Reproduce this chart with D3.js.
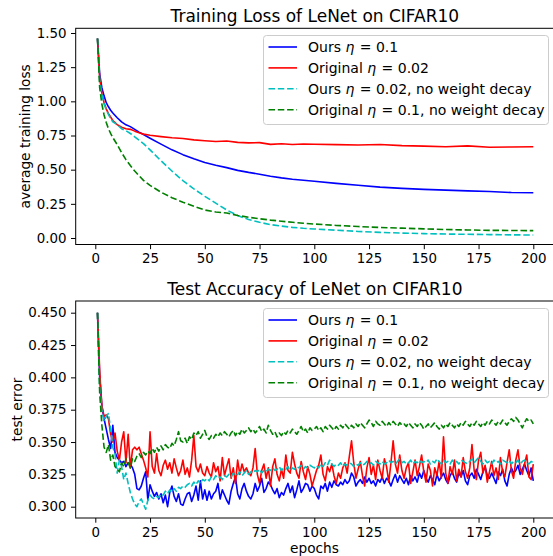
<!DOCTYPE html>
<html>
<head>
<meta charset="utf-8">
<script src="https://cdn.jsdelivr.net/npm/d3@7"></script>
<style>
  body { margin: 0; background: #fff; }
  svg { display: block; font-family: "DejaVu Sans", sans-serif; }
</style>
</head>
<body>
<div id="chart"></div>
<script>
// legend labels (η part is drawn in italic)
var seriesNames = [
    {pre: "Ours ", eta: "η", post: " = 0.1"},
    {pre: "Original ", eta: "η", post: " = 0.02"},
    {pre: "Ours ", eta: "η", post: " = 0.02, no weight decay"},
    {pre: "Original ", eta: "η", post: " = 0.1, no weight decay"}
];
var seriesColors = ["#0000ff", "#ff0000", "#00bfbf", "#008000"];
var seriesDashed = [false, false, true, true];

var xTicks = [0, 25, 50, 75, 100, 125, 150, 175, 200];
var lossTicks = [0, 0.25, 0.5, 0.75, 1.0, 1.25, 1.5];
var errTicks = [0.300, 0.325, 0.350, 0.375, 0.400, 0.425, 0.450];

// training loss, read at these epochs
var lossEpochs = [1,2,3,4,5,6,7,8,10,12,14,16,18,20,22,25,30,35,40,45,50,55,60,65,70,75,80,85,90,95,100,110,120,130,140,150,160,170,180,190,200];
var lossOurs = [1.46,1.20,1.10,1.04,0.99,0.96,0.935,0.915,0.88,0.85,0.828,0.815,0.795,0.775,0.757,0.73,0.687,0.645,0.61,0.58,0.553,0.533,0.515,0.495,0.48,0.467,0.452,0.44,0.43,0.422,0.415,0.400,0.386,0.372,0.363,0.356,0.350,0.345,0.340,0.333,0.331];
var lossOrig = [1.46,1.17,1.06,0.99,0.945,0.91,0.885,0.86,0.83,0.81,0.80,0.795,0.782,0.770,0.760,0.752,0.742,0.733,0.728,0.718,0.712,0.706,0.710,0.700,0.696,0.698,0.685,0.690,0.684,0.688,0.686,0.683,0.680,0.684,0.676,0.672,0.668,0.674,0.664,0.666,0.668];
var lossOursNoWd = [1.46,1.15,1.05,0.98,0.94,0.905,0.875,0.85,0.83,0.80,0.785,0.765,0.74,0.715,0.69,0.645,0.565,0.49,0.42,0.36,0.305,0.255,0.205,0.165,0.135,0.115,0.098,0.087,0.078,0.071,0.066,0.057,0.048,0.041,0.036,0.032,0.029,0.027,0.025,0.023,0.022];
var lossOrigNoWd = [1.46,1.10,0.98,0.90,0.845,0.80,0.765,0.735,0.683,0.625,0.573,0.53,0.49,0.455,0.422,0.385,0.335,0.295,0.262,0.232,0.205,0.19,0.183,0.165,0.152,0.141,0.131,0.123,0.115,0.108,0.102,0.092,0.084,0.077,0.072,0.067,0.062,0.059,0.056,0.055,0.054];

// test error, epochs 1..200
var errOurs = [
0.450,0.400,0.378,0.368,0.360,0.352,0.345,0.363,0.342,0.338,
0.336,0.334,0.335,0.331,0.334,0.333,0.330,0.325,0.314,0.313,
0.316,0.322,0.327,0.305,0.317,0.312,0.308,0.311,0.306,0.310,
0.303,0.309,0.300,0.311,0.316,0.308,0.304,0.310,0.302,0.301,
0.306,0.310,0.311,0.304,0.309,0.316,0.305,0.320,0.306,0.313,
0.305,0.312,0.306,0.310,0.312,0.318,0.306,0.313,0.309,0.305,
0.302,0.312,0.318,0.323,0.310,0.306,0.314,0.318,0.312,0.308,
0.306,0.310,0.318,0.312,0.316,0.322,0.311,0.314,0.319,0.317,
0.313,0.310,0.314,0.307,0.311,0.309,0.314,0.318,0.311,0.316,
0.307,0.313,0.320,0.311,0.314,0.318,0.317,0.312,0.316,0.314,
0.309,0.306,0.316,0.314,0.318,0.312,0.319,0.315,0.320,0.317,
0.316,0.319,0.317,0.321,0.318,0.320,0.326,0.323,0.316,0.319,
0.321,0.318,0.323,0.319,0.322,0.318,0.320,0.316,0.321,0.319,
0.323,0.318,0.322,0.320,0.316,0.321,0.325,0.319,0.324,0.321,
0.318,0.322,0.317,0.324,0.320,0.323,0.319,0.326,0.322,0.328,
0.322,0.319,0.324,0.321,0.317,0.325,0.320,0.323,0.326,0.321,
0.318,0.324,0.327,0.322,0.319,0.326,0.323,0.328,0.320,0.317,
0.324,0.326,0.322,0.329,0.325,0.321,0.327,0.331,0.324,0.322,
0.326,0.322,0.318,0.327,0.324,0.329,0.320,0.316,0.325,0.330,
0.326,0.328,0.332,0.325,0.329,0.333,0.328,0.324,0.330,0.320];
var errOrig = [
0.450,0.405,0.378,0.370,0.371,0.368,0.356,0.350,0.357,0.343,
0.336,0.350,0.358,0.334,0.356,0.330,0.344,0.346,0.344,0.346,
0.341,0.336,0.330,0.323,0.358,0.331,0.326,0.341,0.328,0.324,
0.332,0.336,0.329,0.334,0.326,0.337,0.330,0.324,0.328,0.336,
0.325,0.330,0.323,0.336,0.355,0.331,0.327,0.333,0.326,0.324,
0.331,0.326,0.323,0.334,0.327,0.331,0.320,0.338,0.324,0.331,
0.337,0.322,0.330,0.318,0.336,0.325,0.333,0.327,0.330,0.326,
0.324,0.330,0.345,0.325,0.318,0.328,0.333,0.322,0.330,0.316,
0.331,0.337,0.325,0.320,0.329,0.322,0.340,0.328,0.326,0.342,
0.333,0.326,0.322,0.335,0.327,0.321,0.331,0.325,0.316,0.322,
0.328,0.332,0.340,0.325,0.320,0.331,0.327,0.333,0.324,0.318,
0.326,0.322,0.330,0.334,0.326,0.339,0.351,0.334,0.322,0.329,
0.335,0.324,0.316,0.330,0.338,0.325,0.332,0.321,0.336,0.328,
0.322,0.337,0.331,0.319,0.334,0.351,0.333,0.326,0.340,0.328,
0.322,0.330,0.334,0.318,0.327,0.336,0.324,0.331,0.340,0.327,
0.319,0.333,0.328,0.316,0.330,0.324,0.335,0.322,0.354,0.326,
0.318,0.331,0.325,0.336,0.320,0.329,0.323,0.338,0.327,0.322,
0.330,0.348,0.328,0.321,0.336,0.342,0.326,0.332,0.319,0.327,
0.335,0.324,0.330,0.321,0.338,0.327,0.323,0.334,0.344,0.328,
0.322,0.336,0.344,0.330,0.325,0.333,0.340,0.323,0.321,0.333];
var errOursNoWd = [
0.450,0.392,0.374,0.366,0.370,0.372,0.360,0.346,0.341,0.326,
0.336,0.331,0.321,0.326,0.318,0.311,0.306,0.302,0.300,0.304,
0.306,0.302,0.298,0.305,0.309,0.307,0.306,0.308,0.307,0.310,
0.309,0.312,0.310,0.313,0.311,0.314,0.312,0.315,0.314,0.316,
0.315,0.317,0.318,0.316,0.319,0.317,0.320,0.318,0.321,0.320,
0.322,0.320,0.323,0.321,0.324,0.322,0.323,0.321,0.324,0.323,
0.325,0.323,0.326,0.324,0.325,0.327,0.324,0.326,0.328,0.325,
0.327,0.326,0.328,0.327,0.329,0.326,0.328,0.327,0.329,0.328,
0.330,0.328,0.329,0.331,0.328,0.330,0.329,0.331,0.328,0.330,
0.329,0.331,0.330,0.332,0.329,0.331,0.330,0.332,0.331,0.330,
0.332,0.330,0.333,0.331,0.334,0.332,0.336,0.333,0.331,0.333,
0.332,0.334,0.331,0.333,0.332,0.334,0.333,0.331,0.333,0.332,
0.334,0.332,0.333,0.335,0.333,0.334,0.332,0.335,0.334,0.333,
0.335,0.333,0.334,0.336,0.334,0.335,0.333,0.335,0.337,0.334,
0.335,0.333,0.334,0.336,0.333,0.335,0.334,0.336,0.334,0.335,
0.334,0.336,0.333,0.335,0.334,0.337,0.335,0.333,0.336,0.334,
0.335,0.333,0.336,0.334,0.335,0.333,0.336,0.335,0.334,0.333,
0.335,0.337,0.334,0.336,0.338,0.335,0.333,0.336,0.334,0.335,
0.333,0.336,0.334,0.335,0.333,0.336,0.335,0.334,0.336,0.333,
0.335,0.334,0.336,0.333,0.335,0.336,0.334,0.333,0.335,0.334];
var errOrigNoWd = [
0.450,0.388,0.363,0.346,0.342,0.348,0.336,0.340,0.331,0.329,
0.327,0.334,0.331,0.337,0.334,0.330,0.337,0.335,0.339,0.341,
0.338,0.342,0.340,0.343,0.341,0.345,0.342,0.346,0.343,0.347,
0.344,0.348,0.346,0.345,0.349,0.347,0.352,0.358,0.351,0.350,
0.353,0.349,0.354,0.352,0.357,0.355,0.358,0.353,0.356,0.359,
0.354,0.352,0.355,0.353,0.356,0.354,0.357,0.355,0.358,0.356,
0.354,0.357,0.359,0.355,0.358,0.356,0.360,0.357,0.359,0.361,
0.358,0.360,0.357,0.359,0.362,0.358,0.360,0.357,0.363,0.359,
0.356,0.358,0.354,0.357,0.355,0.358,0.356,0.359,0.357,0.360,
0.358,0.356,0.359,0.362,0.358,0.360,0.357,0.361,0.359,0.360,
0.362,0.359,0.361,0.358,0.362,0.360,0.363,0.361,0.359,0.362,
0.360,0.363,0.361,0.364,0.362,0.360,0.363,0.361,0.364,0.362,
0.365,0.363,0.361,0.364,0.367,0.365,0.362,0.366,0.364,0.363,
0.366,0.364,0.362,0.365,0.363,0.366,0.364,0.362,0.365,0.363,
0.364,0.362,0.365,0.363,0.361,0.364,0.362,0.365,0.363,0.360,
0.362,0.364,0.361,0.363,0.365,0.362,0.360,0.363,0.361,0.364,
0.362,0.365,0.363,0.361,0.364,0.362,0.365,0.363,0.366,0.364,
0.362,0.365,0.363,0.366,0.364,0.362,0.365,0.363,0.366,0.364,
0.367,0.365,0.363,0.366,0.364,0.367,0.365,0.363,0.366,0.368,
0.366,0.369,0.367,0.364,0.361,0.365,0.368,0.366,0.367,0.364];

var errEpochs = d3.range(1, 201);

var W = 553, H = 556;
var fontSize = 14;      // legend
var tickFont = 13.4;    // tick labels
var labelFont = 13.7;   // axis labels

var svg = d3.select("#chart").append("svg")
    .attr("width", W)
    .attr("height", H);

// one subplot: frame, axes, lines, legend
function drawPanel(opts) {
    var left = 75.7, right = 555;
    var x = d3.scaleLinear().domain([0, 200]).range([95.3, 533.3]);
    var y = d3.scaleLinear().domain(opts.yDomain).range(opts.yRange);

    var g = svg.append("g");

    // lines
    var line = d3.line()
        .x(function(d) { return x(d.x); })
        .y(function(d) { return y(d.y); });

    opts.series.forEach(function(s, i) {
        var pts = s.map(function(v, j) { return {x: opts.epochs[j], y: v}; });
        g.append("path")
            .datum(pts)
            .attr("d", line)
            .attr("fill", "none")
            .attr("stroke", seriesColors[i])
            .attr("stroke-width", 1.6)
            .attr("stroke-linejoin", "round")
            .attr("stroke-dasharray", seriesDashed[i] ? "6.5,2.8" : null);
    });

    // frame
    g.append("rect")
        .attr("x", left).attr("y", opts.top)
        .attr("width", right - left).attr("height", opts.bottom - opts.top)
        .attr("fill", "none").attr("stroke", "#000").attr("stroke-width", 1);

    var xAxis = g.append("g")
        .attr("transform", "translate(0," + opts.bottom + ")")
        .call(d3.axisBottom(x).tickValues(xTicks).tickSizeOuter(0).tickSize(4.7).tickPadding(4.4));
    var yAxis = g.append("g")
        .attr("transform", "translate(" + left + ",0)")
        .call(d3.axisLeft(y).tickValues(opts.yTicks).tickFormat(d3.format(opts.fmt))
            .tickSizeOuter(0).tickSize(4.7).tickPadding(4.4));
    [xAxis, yAxis].forEach(function(a) {
        a.select(".domain").remove();
        a.selectAll("text").attr("font-size", tickFont).attr("fill", "#000")
            .attr("font-family", "DejaVu Sans");
        a.selectAll("line").attr("stroke", "#000");
    });

    // title
    g.append("text")
        .attr("x", (left + 553) / 2 + 0.5)
        .attr("y", opts.titleY)
        .attr("text-anchor", "middle")
        .attr("font-size", 17)
        .text(opts.title);

    // y label
    g.append("text")
        .attr("transform", "translate(" + opts.yLabelX + "," + (opts.top + opts.bottom) / 2 + ") rotate(-90)")
        .attr("text-anchor", "middle")
        .attr("font-size", labelFont)
        .text(opts.yLabel);

    // legend
    var lg = g.append("g").attr("transform", "translate(263," + opts.legendTop + ")");
    lg.append("rect")
        .attr("x", 0.5).attr("y", 0.5)
        .attr("width", 285).attr("height", 89)
        .attr("rx", 3)
        .attr("fill", "#fff").attr("fill-opacity", 0.8)
        .attr("stroke", "#cccccc").attr("stroke-width", 1);
    seriesNames.forEach(function(n, i) {
        var ry = 12 + i * 20.9;
        lg.append("line")
            .attr("x1", 5.5).attr("x2", 34)
            .attr("y1", ry).attr("y2", ry)
            .attr("stroke", seriesColors[i])
            .attr("stroke-width", 1.6)
            .attr("stroke-dasharray", seriesDashed[i] ? "6.5,2.8" : null);
        var t = lg.append("text")
            .attr("x", 45).attr("y", ry + 5)
            .attr("font-size", fontSize);
        t.append("tspan").text(n.pre);
        t.append("tspan").attr("font-style", "italic").text(n.eta);
        t.append("tspan").attr("dx", 1).text(n.post);
    });
}

drawPanel({
    top: 28.3, bottom: 244.5,
    yDomain: [0, 1.5], yRange: [238, 33],
    yTicks: lossTicks, fmt: ".2f",
    epochs: lossEpochs,
    series: [lossOurs, lossOrig, lossOursNoWd, lossOrigNoWd],
    title: "Training Loss of LeNet on CIFAR10", titleY: 22,
    yLabel: "average training loss", yLabelX: 30,
    legendTop: 35
});

drawPanel({
    top: 301, bottom: 518,
    yDomain: [0.30, 0.45], yRange: [506.7, 312.7],
    yTicks: errTicks, fmt: ".3f",
    epochs: errEpochs,
    series: [errOurs, errOrig, errOursNoWd, errOrigNoWd],
    title: "Test Accuracy of LeNet on CIFAR10", titleY: 295,
    yLabel: "test error", yLabelX: 21.5,
    legendTop: 308
});

// x label, bottom panel only
svg.append("text")
    .attr("x", 314.5)
    .attr("y", 553)
    .attr("text-anchor", "middle")
    .attr("font-size", labelFont)
    .text("epochs");
</script>
</body>
</html>
